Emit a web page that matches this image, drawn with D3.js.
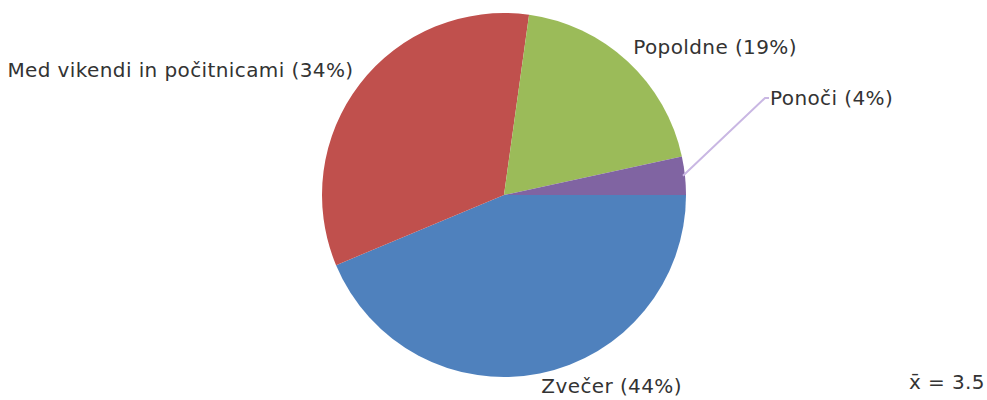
<!DOCTYPE html>
<html>
<head>
<meta charset="utf-8">
<script src="https://cdn.jsdelivr.net/npm/d3@7"></script>
<style>
  body { margin: 0; background: #fff; }
  text { font-family: "DejaVu Sans", Verdana, sans-serif; fill: #333; font-size: 20px; letter-spacing: 0.4px; }
</style>
</head>
<body>
<svg width="987" height="400"></svg>
<script>
var categories = ["Zvečer", "Med vikendi in počitnicami", "Popoldne", "Ponoči"];
var values = [43.7, 33.5, 19.4, 3.4];
var percentLabels = ["44%", "34%", "19%", "4%"];
var colors = ["#4f81bd", "#c0504d", "#9bbb59", "#8064a2"];
var meanLabel = "x\u0304 = 3.5";

var data = categories.map(function(c, i) {
    return { name: c, value: values[i], pct: percentLabels[i], color: colors[i] };
});

var svg = d3.select("svg");
var cx = 504, cy = 195, r = 182;

var pie = d3.pie()
    .sort(null)
    .value(function(d) { return d.value; })
    .startAngle(Math.PI / 2)
    .endAngle(Math.PI / 2 + 2 * Math.PI);

var arcs = pie(data);
var arc = d3.arc().innerRadius(0).outerRadius(r);

var g = svg.append("g").attr("transform", "translate(" + cx + "," + cy + ")");

g.selectAll("path")
    .data(arcs)
    .enter()
    .append("path")
    .attr("d", arc)
    .attr("fill", function(d) { return d.data.color; });

function mid(d) { return (d.startAngle + d.endAngle) / 2; }
function pt(a, rad) { return [Math.sin(a) * rad, -Math.cos(a) * rad]; }

// labels
arcs.forEach(function(d, i) {
    var a = mid(d);
    var txt = d.data.name + " (" + d.data.pct + ")";
    if (d.data.name === "Ponoči") {
        // small slice gets a leader line
        var p0 = pt(a, r - 2);
        var p1 = [261, -97];
        var p2 = [265, -97];
        g.append("polyline")
            .attr("points", [p0, p1, p2].map(function(p) { return p.join(","); }).join(" "))
            .attr("fill", "none")
            .attr("stroke", "#c9b7e3")
            .attr("stroke-width", 2);
        g.append("text")
            .attr("x", p2[0] + 1)
            .attr("y", p2[1])
            .attr("dy", "0.35em")
            .text(txt);
        return;
    }
    var p = pt(a, r + 8);
    var right = Math.sin(a) >= 0;
    var below = -Math.cos(a) > 0;
    g.append("text")
        .attr("x", p[0])
        .attr("y", p[1])
        .attr("dy", below ? "0.6em" : "-0.1em")
        .attr("text-anchor", right ? "start" : "end")
        .text(txt);
});

svg.append("text")
    .attr("x", 985)
    .attr("y", 382)
    .attr("dy", "0.35em")
    .attr("text-anchor", "end")
    .text(meanLabel);
</script>
</body>
</html>
